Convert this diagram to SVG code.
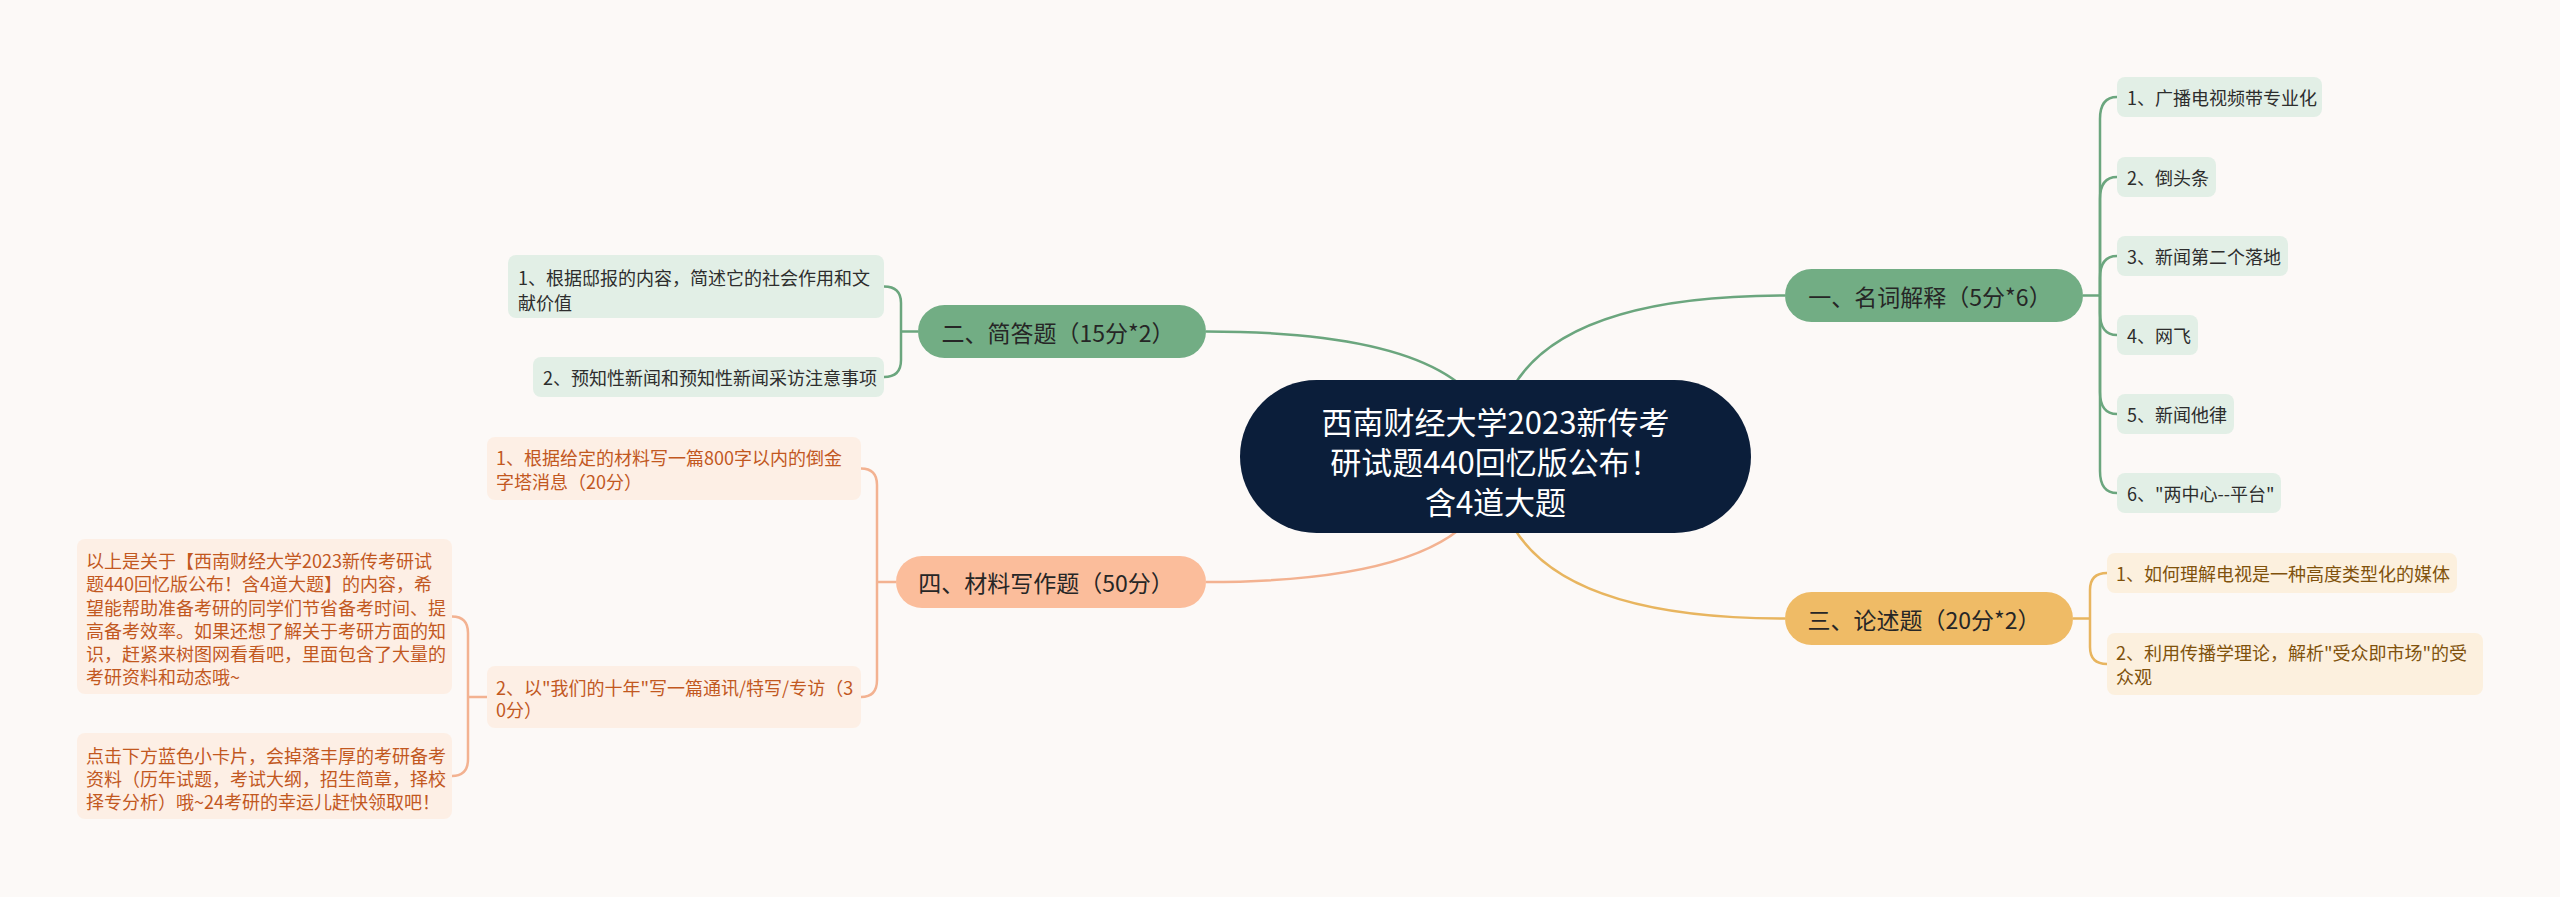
<svg xmlns="http://www.w3.org/2000/svg" width="2560" height="897" viewBox="0 0 2560 897">
<style>
text{font-family:"Noto Sans CJK SC","Noto Sans",sans-serif;}
.root-t{font-size:31px;fill:#ffffff;text-anchor:middle;dominant-baseline:central;}
.br-t{font-size:23px;fill:#262626;text-anchor:middle;dominant-baseline:central;}
.g-t{font-size:18px;fill:#2d2d2d;dominant-baseline:central;}
.y-t{font-size:18px;fill:#80520c;dominant-baseline:central;}
.o-t{font-size:18px;fill:#c2581f;dominant-baseline:central;}
.g-br{fill:#72ad84;}
.y-br{fill:#efbb66;}
.o-br{fill:#fbbd9b;}
.g-box{fill:#e2efe6;}
.y-box{fill:#fcf0de;}
.o-box{fill:#fdefe5;}
.gl{fill:none;stroke:#6ba67e;stroke-width:2.5;}
.yl{fill:none;stroke:#e8b55f;stroke-width:2.5;}
.ol{fill:none;stroke:#f3b291;stroke-width:2.5;}
</style>
<rect x="0" y="0" width="2560" height="897" fill="#fcf9f7"/>
<g id="connectors">
  <path class="gl" d="M1495.5,456.5 Q1495.5,295.5 1785,295.5"/>
  <path class="gl" d="M1495.5,456.5 Q1495.5,331.5 1206,331.5"/>
  <path class="yl" d="M1495.5,456.5 Q1495.5,618.5 1785,618.5"/>
  <path class="ol" d="M1495.5,456.5 Q1495.5,582 1206,582"/>
  <path class="gl" d="M2083,295.5 H2100"/>
  <path class="gl" d="M2100,295.5 V119 Q2100,97 2117,97"/>
  <path class="gl" d="M2100,295.5 V199 Q2100,177 2117,177"/>
  <path class="gl" d="M2100,295.5 V278 Q2100,256 2117,256"/>
  <path class="gl" d="M2100,295.5 V313 Q2100,335 2117,335"/>
  <path class="gl" d="M2100,295.5 V392 Q2100,414 2117,414"/>
  <path class="gl" d="M2100,295.5 V471 Q2100,493 2117,493"/>
  <path class="gl" d="M918,331.5 H901 M884,286.5 Q901,286.5 901,303 V360 Q901,377 884,377"/>
  <path class="yl" d="M2073,618.5 H2090 M2107,573 Q2090,573 2090,590 V647 Q2090,664 2107,664"/>
  <path class="ol" d="M896,582 H877 M861,468.5 Q877,468.5 877,485 V680 Q877,697 861,697"/>
  <path class="ol" d="M487,697 H468 M452,616.5 Q468,616.5 468,633 V759 Q468,776 452,776"/>
</g>
<g id="root">
  <rect x="1240" y="380" width="511" height="153" rx="76.5" fill="#0b1e3a"/>
  <text class="root-t" x="1495.5" y="420">西南财经大学2023新传考</text>
  <text class="root-t" x="1495.5" y="460">研试题440回忆版公布！</text>
  <text class="root-t" x="1495.5" y="500">含4道大题</text>
</g>
<g id="b1">
  <rect class="g-br" x="1785" y="269" width="298" height="53" rx="26.5"/>
  <text class="br-t" x="1930" y="295.5">一、名词解释（5分*6）</text>
</g>
<g id="b1-c1"><rect class="g-box" x="2117" y="77" width="205" height="40" rx="8"/><text class="g-t" x="2127" y="97">1、广播电视频带专业化</text></g>
<g id="b1-c2"><rect class="g-box" x="2117" y="157" width="99" height="40" rx="8"/><text class="g-t" x="2127" y="177">2、倒头条</text></g>
<g id="b1-c3"><rect class="g-box" x="2117" y="236" width="171" height="40" rx="8"/><text class="g-t" x="2127" y="256">3、新闻第二个落地</text></g>
<g id="b1-c4"><rect class="g-box" x="2117" y="315" width="81" height="40" rx="8"/><text class="g-t" x="2127" y="335">4、网飞</text></g>
<g id="b1-c5"><rect class="g-box" x="2117" y="394" width="117" height="40" rx="8"/><text class="g-t" x="2127" y="414">5、新闻他律</text></g>
<g id="b1-c6"><rect class="g-box" x="2117" y="473" width="164" height="40" rx="8"/><text class="g-t" x="2127" y="493">6、"两中心--平台"</text></g>
<g id="b2">
  <rect class="g-br" x="918" y="305" width="288" height="53" rx="26.5"/>
  <text class="br-t" x="1058" y="331.5">二、简答题（15分*2）</text>
</g>
<g id="b2-c1"><rect class="g-box" x="508" y="255" width="376" height="63" rx="8"/><text class="g-t" x="518" y="277">1、根据邸报的内容，简述它的社会作用和文</text><text class="g-t" x="518" y="302">献价值</text></g>
<g id="b2-c2"><rect class="g-box" x="533" y="357" width="351" height="40" rx="8"/><text class="g-t" x="543" y="377">2、预知性新闻和预知性新闻采访注意事项</text></g>
<g id="b3">
  <rect class="y-br" x="1785" y="592" width="288" height="53" rx="26.5"/>
  <text class="br-t" x="1924" y="618.5">三、论述题（20分*2）</text>
</g>
<g id="b3-c1"><rect class="y-box" x="2107" y="553" width="350" height="40" rx="8"/><text class="y-t" x="2116" y="573">1、如何理解电视是一种高度类型化的媒体</text></g>
<g id="b3-c2"><rect class="y-box" x="2107" y="633" width="376" height="62" rx="8"/><text class="y-t" x="2116" y="652">2、利用传播学理论，解析"受众即市场"的受</text><text class="y-t" x="2116" y="676">众观</text></g>
<g id="b4">
  <rect class="o-br" x="896" y="556" width="310" height="52" rx="26"/>
  <text class="br-t" x="1046" y="582">四、材料写作题（50分）</text>
</g>
<g id="b4-c1"><rect class="o-box" x="487" y="437" width="374" height="63" rx="8"/><text class="o-t" x="496" y="457">1、根据给定的材料写一篇800字以内的倒金</text><text class="o-t" x="496" y="481">字塔消息（20分）</text></g>
<g id="b4-c2"><rect class="o-box" x="487" y="666" width="374" height="62" rx="8"/><text class="o-t" x="496" y="687">2、以"我们的十年"写一篇通讯/特写/专访（3</text><text class="o-t" x="496" y="709">0分）</text></g>
<g id="note1"><rect class="o-box" x="77" y="539" width="375" height="155" rx="8"/>
  <text class="o-t" x="86" y="560">以上是关于【西南财经大学2023新传考研试</text>
  <text class="o-t" x="86" y="583">题440回忆版公布！含4道大题】的内容，希</text>
  <text class="o-t" x="86" y="607">望能帮助准备考研的同学们节省备考时间、提</text>
  <text class="o-t" x="86" y="630">高备考效率。如果还想了解关于考研方面的知</text>
  <text class="o-t" x="86" y="653">识，赶紧来树图网看看吧，里面包含了大量的</text>
  <text class="o-t" x="86" y="676">考研资料和动态哦~</text>
</g>
<g id="note2"><rect class="o-box" x="77" y="733" width="375" height="86" rx="8"/>
  <text class="o-t" x="86" y="755">点击下方蓝色小卡片，会掉落丰厚的考研备考</text>
  <text class="o-t" x="86" y="778">资料（历年试题，考试大纲，招生简章，择校</text>
  <text class="o-t" x="86" y="801">择专分析）哦~24考研的幸运儿赶快领取吧！</text>
</g>
</svg>
